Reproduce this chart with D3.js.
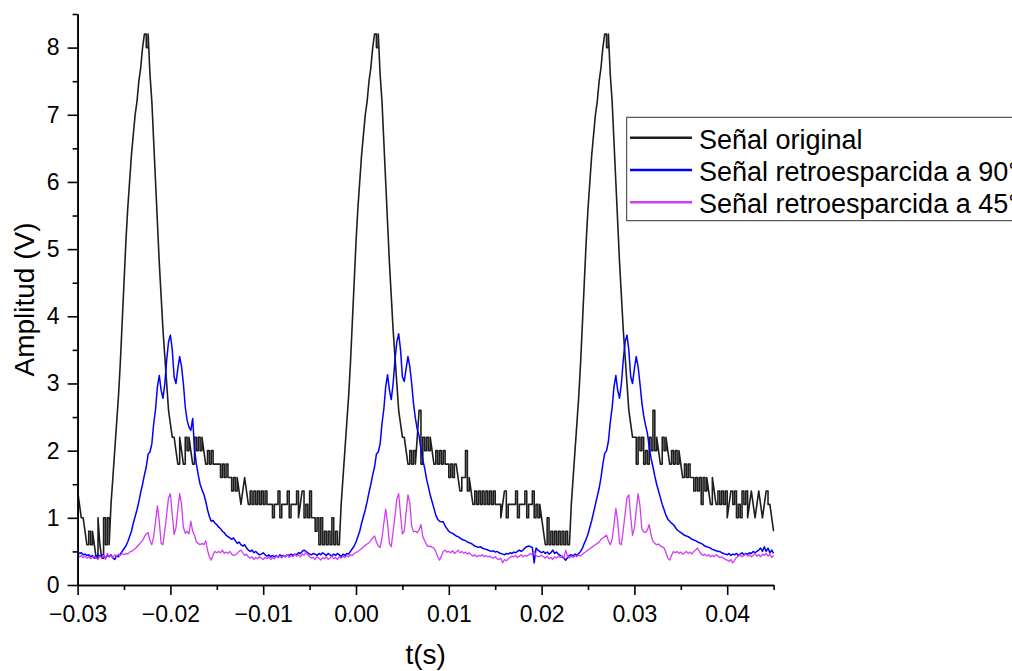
<!DOCTYPE html>
<html>
<head>
<meta charset="utf-8">
<script src="https://cdn.jsdelivr.net/npm/d3@7"></script>
<style>
  body { margin: 0; background: #fff; }
  svg text { font-family: "Liberation Sans", Arial, sans-serif; fill: #000; }
</style>
</head>
<body>
<div id="chart"></div>
<script>
// scope traces, one sample every 0.2 ms starting at t = -0.03 s
var tStart = -0.03, tStep = 0.0002;

var seriesNames = ["Señal original", "Señal retroesparcida a 90°", "Señal retroesparcida a 45°"];
var seriesColors = ["#1e1e1e", "#0000ff", "#d23cf2"];

var xTicks = [-0.03, -0.02, -0.01, 0, 0.01, 0.02, 0.03, 0.04];
var xMinor = [-0.025, -0.015, -0.005, 0.005, 0.015, 0.025, 0.035, 0.045];
var yTicks = [0, 1, 2, 3, 4, 5, 6, 7, 8];
var yMinor = [0.5, 1.5, 2.5, 3.5, 4.5, 5.5, 6.5, 7.5, 8.5];

var original = [
  // first pulse
  1.4, 1.2, 1.0, 1.0, 0.8, 0.6, 0.8, 0.6, 0.8, 0.6,
  0.4, 1.0, 0.6, 0.4, 1.0, 0.6, 1.0, 0.6,
  1.2, 1.6, 2.0, 2.4, 2.8, 3.3, 3.9, 4.5, 5.1, 5.6, 6.0, 6.4, 6.7, 7.0, 7.2, 7.5, 7.7, 8.0,
  8.2, 8.0, 8.2, 7.6, 7.2, 6.6, 6.0, 5.4, 4.8, 4.3, 3.8, 3.4, 3.0, 2.6, 2.4, 2.2,
  2.2, 2.0, 1.8, 2.2, 2.0, 1.8, 2.2, 2.0, 2.2, 2.0, 1.8, 2.2, 2.0, 2.2, 2.0, 2.2,
  2.0, 1.8, 2.0, 1.8, 2.0, 1.8,
  1.8, 1.8, 1.8, 1.6, 1.8, 1.6, 1.8, 1.6,
  1.6, 1.4, 1.6, 1.4, 1.6, 1.4,
  1.2, 1.4, 1.6, 1.4, 1.2, 1.4, 1.2, 1.4, 1.2, 1.4, 1.2, 1.4, 1.2, 1.4, 1.2,
  1.2, 1.2, 1.0, 1.2, 1.2, 1.4, 1.0, 1.2, 1.2, 1.2, 1.4, 1.0, 1.2, 1.2, 1.2, 1.4, 1.0, 1.2, 1.4, 1.0,
  1.2, 1.0, 1.4, 1.0, 1.0,
  // second pulse
  0.8, 1.0, 0.6, 1.0, 0.6, 0.8, 0.6, 0.8, 0.6, 1.0, 0.6, 0.8, 0.6, 0.6,
  1.2, 1.6, 2.0, 2.4, 2.8, 3.3, 3.9, 4.5, 5.1, 5.6, 6.0, 6.4, 6.7, 7.0, 7.2, 7.5, 7.7, 8.0,
  8.2, 8.0, 8.2, 7.6, 7.2, 6.6, 6.0, 5.4, 4.8, 4.3, 3.8, 3.4, 3.0, 2.6, 2.4, 2.2,
  2.2, 2.0, 1.8, 2.0, 1.8,
  2.0, 1.8, 2.2, 2.6, 1.8, 2.2, 2.0, 2.2, 2.0, 2.2, 2.0,
  1.8, 2.0, 1.8, 2.0, 1.8, 2.0, 1.8, 1.8,
  1.6, 1.8, 1.6, 1.8, 1.8, 1.6,
  1.4, 1.6, 1.6, 2.0, 1.4, 1.6,
  1.4, 1.2, 1.4, 1.2, 1.4, 1.2, 1.4, 1.2, 1.4, 1.2, 1.4, 1.2, 1.4, 1.2,
  1.2, 1.2, 1.0, 1.2, 1.4, 1.0, 1.2, 1.2, 1.2, 1.2, 1.4, 1.0, 1.2, 1.2, 1.2, 1.4, 1.0, 1.2, 1.2, 1.4,
  1.0, 1.2, 1.0, 1.2, 1.0,
  // third pulse
  0.8, 0.6, 1.0, 0.6, 0.8, 0.6, 0.8, 0.6, 0.8, 0.6, 0.8, 0.6, 0.8, 0.6, 0.6,
  1.2, 1.6, 2.0, 2.4, 2.8, 3.3, 3.9, 4.5, 5.1, 5.6, 6.0, 6.4, 6.7, 7.0, 7.2, 7.5, 7.7, 8.0,
  8.2, 8.0, 8.2, 7.6, 7.2, 6.6, 6.0, 5.4, 4.8, 4.3, 3.8, 3.4, 3.0, 2.6, 2.4, 2.2,
  2.2, 1.8, 2.2, 2.0, 2.2, 1.8, 2.0, 1.8, 2.2, 2.0, 2.6, 2.0, 2.2, 2.0, 1.8, 2.2, 2.0, 2.2,
  2.0, 1.8, 2.0, 1.8, 2.0, 1.8, 2.0,
  1.8, 1.6, 1.8, 1.6, 1.8, 1.6,
  1.6, 1.4, 1.6, 1.4, 1.6, 1.2, 1.6, 1.4, 1.6, 1.4, 1.2, 1.6, 1.4,
  1.2, 1.4, 1.2, 1.4, 1.2, 1.4, 1.0, 1.2, 1.4, 1.2, 1.4, 1.0, 1.2, 1.0, 1.4, 1.2, 1.4, 1.0,
  1.2, 1.4, 1.2, 1.0, 1.2, 1.4, 1.2, 1.0, 1.2, 1.4, 1.2, 1.2, 1.0, 0.8
];

var retro90 = [
  // first pulse
  0.50, 0.47, 0.48, 0.45, 0.46, 0.44, 0.45, 0.42, 0.44, 0.40,
  0.42, 0.45, 0.43, 0.45, 0.44, 0.40, 0.44, 0.42, 0.45, 0.40,
  0.38, 0.44, 0.42, 0.46, 0.50, 0.54, 0.58, 0.64, 0.72, 0.80,
  0.92, 1.02, 1.12, 1.24, 1.38, 1.50, 1.64, 1.76, 1.95, 1.98,
  2.10, 2.40, 2.62, 2.95, 3.12, 2.90, 2.78, 3.00, 3.35, 3.62,
  3.72, 3.50, 3.10, 3.00, 3.22, 3.40, 3.25, 3.00, 2.65, 2.45,
  2.35, 2.30, 2.48, 2.02, 1.80, 1.64, 1.50, 1.42, 1.35, 1.25,
  1.12, 1.02, 0.95, 0.96, 0.92, 0.90, 0.86, 0.84, 0.80, 0.78,
  0.74, 0.72, 0.70, 0.68, 0.70, 0.66, 0.62, 0.64, 0.60, 0.58,
  0.60, 0.55, 0.52, 0.50, 0.52, 0.48, 0.50, 0.47, 0.45, 0.46,
  0.48, 0.45, 0.43, 0.45, 0.42, 0.44, 0.42, 0.44, 0.41, 0.45,
  0.43, 0.44, 0.42, 0.45, 0.44, 0.46, 0.44, 0.46, 0.45, 0.48,
  0.47, 0.50, 0.52, 0.50, 0.48, 0.46,
  // second pulse
  0.45, 0.47, 0.46, 0.44, 0.47, 0.45, 0.48, 0.46, 0.44, 0.47,
  0.45, 0.43, 0.46, 0.44, 0.47, 0.45, 0.42, 0.46, 0.44, 0.47,
  0.46, 0.50, 0.54, 0.58,
  0.64, 0.72, 0.80, 0.92, 1.02, 1.12, 1.24, 1.38, 1.50, 1.64,
  1.76, 1.95, 1.98, 2.10, 2.40, 2.62, 2.95, 3.13, 2.90, 2.76,
  3.00, 3.35, 3.62, 3.74, 3.50, 3.10, 3.03, 3.22, 3.40, 3.25,
  3.00, 2.70, 2.48, 2.32, 2.22, 2.02, 1.86, 1.74, 1.58, 1.46,
  1.34, 1.24, 1.14, 1.04, 0.98, 0.95, 0.94, 0.94, 0.88, 0.84,
  0.80, 0.78, 0.77, 0.75, 0.73, 0.72, 0.70, 0.68, 0.67, 0.66,
  0.64, 0.63, 0.62, 0.60, 0.58, 0.57, 0.56, 0.57, 0.55, 0.54,
  0.53, 0.52, 0.51, 0.50, 0.51, 0.49, 0.50, 0.48, 0.47, 0.46,
  0.45, 0.47, 0.46, 0.48, 0.47, 0.49, 0.48, 0.50, 0.52, 0.50,
  0.52, 0.55, 0.57, 0.58, 0.57, 0.56, 0.33, 0.55, 0.52, 0.50,
  // third pulse
  0.48, 0.50, 0.47, 0.49, 0.46, 0.48, 0.52, 0.47, 0.49, 0.46,
  0.44, 0.42, 0.40, 0.37, 0.41, 0.44, 0.45, 0.43, 0.46, 0.44,
  0.47, 0.50, 0.55, 0.62, 0.68, 0.76, 0.86, 0.96, 1.08, 1.20,
  1.32, 1.44, 1.60, 1.80, 1.96, 2.00, 2.14, 2.42, 2.64, 2.95,
  3.12, 2.90, 2.78, 3.00, 3.35, 3.62, 3.72, 3.50, 3.10, 3.00,
  3.22, 3.40, 3.25, 3.00, 2.72, 2.52, 2.38, 2.26, 2.05, 1.88,
  1.76, 1.62, 1.50, 1.40, 1.30, 1.20, 1.12, 1.04, 0.98, 0.95,
  0.92, 0.90, 0.86, 0.82, 0.80, 0.78, 0.76, 0.74, 0.73, 0.72,
  0.70, 0.68, 0.67, 0.66, 0.64, 0.63, 0.62, 0.60, 0.58, 0.57,
  0.56, 0.55, 0.53, 0.52, 0.51, 0.50, 0.50, 0.48, 0.47, 0.46,
  0.45, 0.47, 0.44, 0.46, 0.45, 0.47, 0.44, 0.46, 0.48, 0.45,
  0.47, 0.46, 0.48, 0.47, 0.50, 0.48, 0.50, 0.52, 0.55, 0.50,
  0.57, 0.50, 0.55, 0.48, 0.52, 0.47
];

var retro45 = [
  // first pulse
  0.45, 0.42, 0.44, 0.41, 0.43, 0.40, 0.42, 0.39, 0.41, 0.43,
  0.40, 0.38, 0.43, 0.40, 0.44, 0.38, 0.47, 0.42, 0.44, 0.40,
  0.45, 0.43, 0.46, 0.44, 0.47, 0.45, 0.47, 0.46, 0.49, 0.50,
  0.52, 0.54, 0.57, 0.60, 0.63, 0.66, 0.72, 0.76, 0.78, 0.66,
  0.60, 0.72, 0.95, 1.18, 0.95, 0.62, 0.60, 0.82, 1.05, 1.30,
  1.36, 1.05, 0.75, 0.85, 1.12, 1.36, 1.20, 0.86, 0.77, 0.80,
  0.76, 0.95, 0.80, 0.74, 0.64, 0.62, 0.60, 0.62, 0.60, 0.66,
  0.52, 0.42, 0.37, 0.45, 0.50, 0.48, 0.50, 0.48, 0.52, 0.47,
  0.49, 0.47, 0.50, 0.46, 0.44, 0.45, 0.47, 0.50, 0.52, 0.48,
  0.44, 0.46, 0.42, 0.40, 0.42, 0.38, 0.41, 0.39, 0.42, 0.40,
  0.38, 0.41, 0.39, 0.42, 0.38, 0.41, 0.39, 0.43, 0.41, 0.43,
  0.40, 0.44, 0.42, 0.45, 0.41, 0.44, 0.42, 0.46, 0.43, 0.45,
  0.42, 0.46, 0.44, 0.49, 0.45, 0.42, 0.40,
  // second pulse
  0.41, 0.38, 0.42, 0.40, 0.37, 0.41, 0.39, 0.42, 0.38, 0.40,
  0.43, 0.39, 0.41, 0.38, 0.42, 0.40, 0.43, 0.41, 0.44, 0.42,
  0.45, 0.44, 0.47, 0.48, 0.50, 0.52, 0.54, 0.57, 0.59, 0.61,
  0.63, 0.66, 0.70, 0.73, 0.64, 0.58, 0.56, 0.70, 0.92, 1.13, 0.92, 0.62, 0.57, 0.80,
  1.02, 1.28, 1.36, 1.05, 0.76, 0.80, 1.08, 1.34, 1.22, 0.88,
  0.79, 0.80, 0.78, 0.82, 0.90, 0.72, 0.66, 0.60, 0.57, 0.58,
  0.56, 0.55, 0.50, 0.42, 0.37, 0.43, 0.50, 0.52, 0.49, 0.50,
  0.48, 0.51, 0.47, 0.49, 0.52, 0.48, 0.50, 0.47, 0.49, 0.46,
  0.48, 0.45, 0.43, 0.45, 0.42, 0.44, 0.43, 0.45, 0.42, 0.44,
  0.42, 0.43, 0.41, 0.40, 0.42, 0.39, 0.38, 0.40, 0.33, 0.38,
  0.36, 0.39, 0.41, 0.43, 0.42, 0.44, 0.41, 0.43, 0.45, 0.42,
  0.44, 0.43, 0.45, 0.47, 0.45, 0.50, 0.44, 0.42, 0.43,
  // third pulse
  0.44, 0.42, 0.40, 0.43, 0.39, 0.41, 0.38, 0.42, 0.40, 0.43,
  0.41, 0.44, 0.40, 0.52, 0.42, 0.40, 0.43, 0.41, 0.44, 0.42,
  0.45, 0.43, 0.46, 0.48, 0.50, 0.52, 0.54, 0.56, 0.58, 0.60,
  0.62, 0.64, 0.68, 0.70,
  0.72, 0.74, 0.66, 0.60, 0.68, 0.90, 1.14, 0.95, 0.62, 0.60, 0.82,
  1.06, 1.30, 1.34, 1.02, 0.74, 0.85, 1.12, 1.36, 1.18, 0.84, 0.79,
  0.78, 0.82, 0.90, 0.74, 0.65, 0.62, 0.60, 0.61, 0.58, 0.57,
  0.55, 0.48, 0.40, 0.37, 0.44, 0.50, 0.48, 0.50, 0.47, 0.49,
  0.46, 0.48, 0.50, 0.47, 0.49, 0.46, 0.50, 0.52, 0.55, 0.50,
  0.46, 0.44, 0.46, 0.43, 0.45, 0.42, 0.44, 0.42, 0.45, 0.43,
  0.41, 0.42, 0.40, 0.38, 0.37, 0.35, 0.38, 0.33, 0.37, 0.41,
  0.43, 0.45, 0.42, 0.44, 0.46, 0.43, 0.45, 0.42, 0.44, 0.47,
  0.43, 0.45, 0.42, 0.46, 0.44, 0.47, 0.43, 0.46, 0.41, 0.44
];

// samples -> [t, v]; for the quantized trace, a toggle between levels is drawn
// as a vertical step, while a monotone ramp (pulse flank) stays a straight line
function toPoints(values, stepped) {
    var pts = [];
    values.forEach(function (v, i) {
        var t = tStart + i * tStep;
        if (stepped && i > 0) {
            var d = Math.sign(v - values[i - 1]);
            var dPrev = i > 1 ? Math.sign(values[i - 1] - values[i - 2]) : 0;
            var dNext = i < values.length - 1 ? Math.sign(values[i + 1] - v) : 0;
            var ramp = d != 0 && (dPrev == d || dNext == d);
            if (!ramp) pts.push([t, values[i - 1]]);
        }
        pts.push([t, v]);
    });
    return pts;
}

function drawChart() {

    // plot box
    var margin = {top: 14, right: 238.4, bottom: 86, left: 77.6},
        width = 1012 - margin.left - margin.right,
        height = 671 - margin.top - margin.bottom;

    var svgRoot = d3.select("#chart")
        .append("svg")
        .attr("width", 1012)
        .attr("height", 671);

    var svg = svgRoot.append("g")
        .attr("transform", "translate(" + margin.left + "," + margin.top + ")");

    var x = d3.scaleLinear().domain([-0.03, 0.045]).range([0, width]);
    var y = d3.scaleLinear().domain([0, 8.5]).range([height, 0]);

    svg.append("clipPath").attr("id", "plotClip")
        .append("rect").attr("x", 0).attr("y", -2).attr("width", width + 1).attr("height", height + 2);

    var traces = [toPoints(original, true), toPoints(retro90, false), toPoints(retro45, false)];
    var line = d3.line()
        .x(function (d) { return x(d[0]); })
        .y(function (d) { return y(d[1]); });

    svg.append("g")
        .attr("clip-path", "url(#plotClip)")
        .selectAll("path")
        .data(traces)
        .enter()
        .append("path")
        .attr("d", line)
        .attr("fill", "none")
        .attr("stroke", function (d, i) { return seriesColors[i]; })
        .attr("stroke-width", function (d, i) { return i == 0 ? 1.6 : (i == 1 ? 1.5 : 1.3); })
        .attr("stroke-linejoin", "round");

    // minor ticks first, then major ticks with labels
    svg.append("g")
        .attr("transform", "translate(0," + height + ")")
        .call(d3.axisBottom(x).tickValues(xMinor).tickSize(5).tickSizeOuter(0).tickFormat(""));
    svg.append("g")
        .attr("transform", "translate(0," + height + ")")
        .call(d3.axisBottom(x).tickValues(xTicks).tickSize(10).tickSizeOuter(0).tickPadding(11)
            .tickFormat(d3.format(".2f")));

    svg.append("g")
        .call(d3.axisLeft(y).tickValues(yMinor).tickSize(5).tickSizeOuter(0).tickFormat(""));
    svg.append("g")
        .call(d3.axisLeft(y).tickValues(yTicks).tickSize(10).tickSizeOuter(0).tickPadding(8)
            .tickFormat(d3.format("d")));

    svg.selectAll(".domain, .tick line")
        .attr("stroke", "#000")
        .attr("stroke-width", 1.6);
    svg.selectAll(".tick text")
        .attr("font-family", "Liberation Sans, Arial, sans-serif")
        .attr("font-size", 23);

    // axis titles
    svgRoot.append("text")
        .attr("transform", "translate(34," + (margin.top + height / 2) + ") rotate(-90)")
        .attr("text-anchor", "middle")
        .attr("font-size", 28)
        .text("Amplitud (V)");
    svgRoot.append("text")
        .attr("x", margin.left + width / 2)
        .attr("y", 664)
        .attr("text-anchor", "middle")
        .attr("font-size", 28)
        .text("t(s)");

    // legend, its right side runs off the page as in the original figure
    var legend = svgRoot.append("g");
    legend.append("rect")
        .attr("x", 626.7)
        .attr("y", 117.3)
        .attr("width", 420)
        .attr("height", 103.4)
        .attr("fill", "#fff")
        .attr("stroke", "#333")
        .attr("stroke-width", 1);

    var rows = legend.selectAll("g.row")
        .data(seriesNames)
        .enter()
        .append("g")
        .attr("class", "row")
        .attr("transform", function (d, i) { return "translate(0," + (137.7 + i * 32.3) + ")"; });
    rows.append("line")
        .attr("x1", 630).attr("x2", 692)
        .attr("stroke", function (d, i) { return seriesColors[i]; })
        .attr("stroke-width", 2.6);
    rows.append("text")
        .attr("x", 699)
        .attr("y", 11)
        .attr("font-size", 27)
        .text(function (d) { return d; });
}

drawChart();
</script>
</body>
</html>
